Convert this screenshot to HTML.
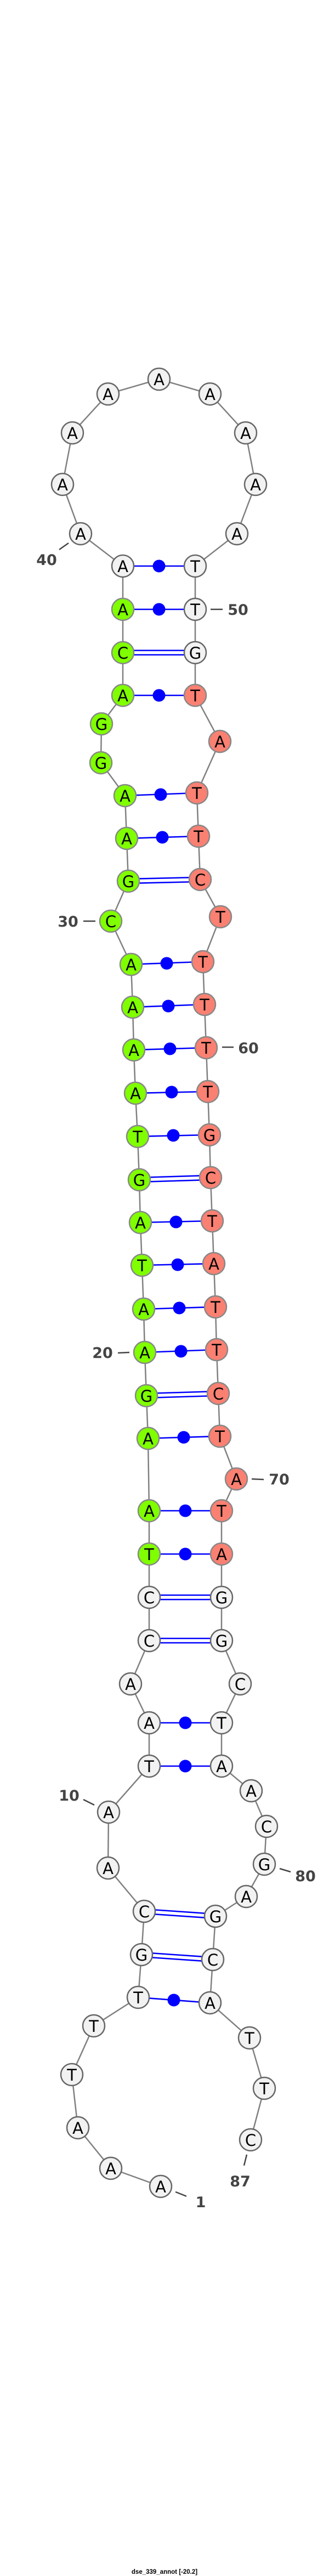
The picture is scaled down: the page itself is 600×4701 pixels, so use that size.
<!DOCTYPE html>
<html><head><meta charset="utf-8"><style>
html,body{margin:0;padding:0;background:#fff;}
svg{display:block}
.n{font-family:"DejaVu Sans","Liberation Sans",sans-serif;font-size:29px;text-anchor:middle;fill:#000}
.l{font-family:"DejaVu Sans","Liberation Sans",sans-serif;font-size:27px;font-weight:bold;text-anchor:middle;fill:#444}
circle.w{fill:#f2f2f2;stroke:#666;stroke-width:2.5}
circle.g{fill:#7fff00;stroke:#888;stroke-width:2.5}
circle.s{fill:#fa8072;stroke:#888;stroke-width:2.5}
.bp{stroke:#0000ff;stroke-width:2.6;fill:none}
.tk{stroke:#444;stroke-width:2.5}
</style></head><body>
<svg width="600" height="4701" viewBox="0 0 600 4701" xmlns="http://www.w3.org/2000/svg">
<polyline fill="none" stroke="#808080" stroke-width="2.5" points="293,3990 202,3957 142,3883 131,3786 171,3697 252,3645 258,3567 263,3488 197,3409 198,3307 272,3223 272,3144 238,3073 272,2994 272,2915 272,2836 272,2757 270,2625 267,2547 264,2468 262,2389 259,2309 256,2231 254,2153 251,2074 247,1995 244,1916 242,1838 239,1760 202,1681 234,1608 231,1530 228,1452 184,1392 185,1321 224,1269 224,1191 224,1112 224,1033 147,974 114,884 132,790 197,719 290,692 383,719 448,790 466,884 432,974 356,1033 356,1112 356,1191 356,1269 401,1353 359,1447 362,1526 365,1605 402,1673 370,1755 373,1833 376,1912 379,1992 382,2071 384,2149 387,2228 390,2306 393,2385 395,2463 398,2543 401,2621 431,2699 404,2757 404,2836 404,2915 404,2994 438,3073 404,3144 404,3223 458,3268 486,3333 482,3402 449,3461 393,3497 388,3576 383,3655 455,3719 482,3811 457,3905"/>
<!-- single (dot) pairs -->
<g class="bp">
<line x1="224" y1="1033" x2="356" y2="1033"/><line x1="224" y1="1112" x2="356" y2="1112"/><line x1="224" y1="1269" x2="356" y2="1269"/>
<line x1="228" y1="1452" x2="359" y2="1447"/><line x1="231" y1="1530" x2="362" y2="1526"/>
<line x1="239" y1="1760" x2="370" y2="1755"/><line x1="242" y1="1838" x2="373" y2="1833"/><line x1="244" y1="1916" x2="376" y2="1912"/>
<line x1="247" y1="1995" x2="379" y2="1992"/><line x1="251" y1="2074" x2="382" y2="2071"/>
<line x1="256" y1="2231" x2="387" y2="2228"/><line x1="259" y1="2309" x2="390" y2="2306"/><line x1="262" y1="2389" x2="393" y2="2385"/><line x1="264" y1="2468" x2="395" y2="2463"/>
<line x1="270" y1="2625" x2="401" y2="2621"/><line x1="272" y1="2757" x2="404" y2="2757"/><line x1="272" y1="2836" x2="404" y2="2836"/>
<line x1="272" y1="3144" x2="404" y2="3144"/><line x1="272" y1="3223" x2="404" y2="3223"/>
<line x1="252" y1="3645" x2="383" y2="3655"/>
<!-- doubles -->
<line x1="224" y1="1187" x2="356" y2="1187"/><line x1="224" y1="1195" x2="356" y2="1195"/>
<line x1="234" y1="1604" x2="365" y2="1601"/><line x1="234" y1="1612" x2="365" y2="1609"/>
<line x1="254" y1="2149" x2="384" y2="2145"/><line x1="254" y1="2157" x2="384" y2="2153"/>
<line x1="267" y1="2543" x2="398" y2="2539"/><line x1="267" y1="2551" x2="398" y2="2547"/>
<line x1="272" y1="2911" x2="404" y2="2911"/><line x1="272" y1="2919" x2="404" y2="2919"/>
<line x1="272" y1="2990" x2="404" y2="2990"/><line x1="272" y1="2998" x2="404" y2="2998"/>
<line x1="263" y1="3484" x2="393" y2="3493"/><line x1="263" y1="3492" x2="393" y2="3501"/>
<line x1="258" y1="3563" x2="388" y2="3572"/><line x1="258" y1="3571" x2="388" y2="3580"/>
</g>
<g fill="#0000ff">
<circle cx="290" cy="1033" r="11.5"/><circle cx="290" cy="1112" r="11.5"/><circle cx="290" cy="1269" r="11.5"/>
<circle cx="293" cy="1450" r="11.5"/><circle cx="296" cy="1528" r="11.5"/>
<circle cx="304" cy="1758" r="11.5"/><circle cx="307" cy="1836" r="11.5"/><circle cx="310" cy="1914" r="11.5"/>
<circle cx="313" cy="1993" r="11.5"/><circle cx="316" cy="2072" r="11.5"/>
<circle cx="321" cy="2230" r="11.5"/><circle cx="324" cy="2308" r="11.5"/><circle cx="327" cy="2387" r="11.5"/><circle cx="330" cy="2466" r="11.5"/>
<circle cx="335" cy="2623" r="11.5"/><circle cx="338" cy="2757" r="11.5"/><circle cx="338" cy="2836" r="11.5"/>
<circle cx="338" cy="3144" r="11.5"/><circle cx="338" cy="3223" r="11.5"/>
<circle cx="317" cy="3650" r="11.5"/>
</g>
<!-- nodes -->
<g>
<circle class="w" cx="293" cy="3990" r="20"/><text class="n" x="293" y="4001">A</text>
<circle class="w" cx="202" cy="3957" r="20"/><text class="n" x="202" y="3968">A</text>
<circle class="w" cx="142" cy="3883" r="20"/><text class="n" x="142" y="3894">A</text>
<circle class="w" cx="131" cy="3786" r="20"/><text class="n" x="131" y="3797">T</text>
<circle class="w" cx="171" cy="3697" r="20"/><text class="n" x="171" y="3708">T</text>
<circle class="w" cx="252" cy="3645" r="20"/><text class="n" x="252" y="3656">T</text>
<circle class="w" cx="258" cy="3567" r="20"/><text class="n" x="258" y="3578">G</text>
<circle class="w" cx="263" cy="3488" r="20"/><text class="n" x="263" y="3499">C</text>
<circle class="w" cx="197" cy="3409" r="20"/><text class="n" x="197" y="3420">A</text>
<circle class="w" cx="198" cy="3307" r="20"/><text class="n" x="198" y="3318">A</text>
<circle class="w" cx="272" cy="3223" r="20"/><text class="n" x="272" y="3234">T</text>
<circle class="w" cx="272" cy="3144" r="20"/><text class="n" x="272" y="3155">A</text>
<circle class="w" cx="238" cy="3073" r="20"/><text class="n" x="238" y="3084">A</text>
<circle class="w" cx="272" cy="2994" r="20"/><text class="n" x="272" y="3005">C</text>
<circle class="w" cx="272" cy="2915" r="20"/><text class="n" x="272" y="2926">C</text>
<circle class="g" cx="272" cy="2836" r="20"/><text class="n" x="272" y="2847">T</text>
<circle class="g" cx="272" cy="2757" r="20"/><text class="n" x="272" y="2768">A</text>
<circle class="g" cx="270" cy="2625" r="20"/><text class="n" x="270" y="2636">A</text>
<circle class="g" cx="267" cy="2547" r="20"/><text class="n" x="267" y="2558">G</text>
<circle class="g" cx="264" cy="2468" r="20"/><text class="n" x="264" y="2479">A</text>
<circle class="g" cx="262" cy="2389" r="20"/><text class="n" x="262" y="2400">A</text>
<circle class="g" cx="259" cy="2309" r="20"/><text class="n" x="259" y="2320">T</text>
<circle class="g" cx="256" cy="2231" r="20"/><text class="n" x="256" y="2242">A</text>
<circle class="g" cx="254" cy="2153" r="20"/><text class="n" x="254" y="2164">G</text>
<circle class="g" cx="251" cy="2074" r="20"/><text class="n" x="251" y="2085">T</text>
<circle class="g" cx="247" cy="1995" r="20"/><text class="n" x="247" y="2006">A</text>
<circle class="g" cx="244" cy="1916" r="20"/><text class="n" x="244" y="1927">A</text>
<circle class="g" cx="242" cy="1838" r="20"/><text class="n" x="242" y="1849">A</text>
<circle class="g" cx="239" cy="1760" r="20"/><text class="n" x="239" y="1771">A</text>
<circle class="g" cx="202" cy="1681" r="20"/><text class="n" x="202" y="1692">C</text>
<circle class="g" cx="234" cy="1608" r="20"/><text class="n" x="234" y="1619">G</text>
<circle class="g" cx="231" cy="1530" r="20"/><text class="n" x="231" y="1541">A</text>
<circle class="g" cx="228" cy="1452" r="20"/><text class="n" x="228" y="1463">A</text>
<circle class="g" cx="184" cy="1392" r="20"/><text class="n" x="184" y="1403">G</text>
<circle class="g" cx="185" cy="1321" r="20"/><text class="n" x="185" y="1332">G</text>
<circle class="g" cx="224" cy="1269" r="20"/><text class="n" x="224" y="1280">A</text>
<circle class="g" cx="224" cy="1191" r="20"/><text class="n" x="224" y="1202">C</text>
<circle class="g" cx="224" cy="1112" r="20"/><text class="n" x="224" y="1123">A</text>
<circle class="w" cx="224" cy="1033" r="20"/><text class="n" x="224" y="1044">A</text>
<circle class="w" cx="147" cy="974" r="20"/><text class="n" x="147" y="985">A</text>
<circle class="w" cx="114" cy="884" r="20"/><text class="n" x="114" y="895">A</text>
<circle class="w" cx="132" cy="790" r="20"/><text class="n" x="132" y="801">A</text>
<circle class="w" cx="197" cy="719" r="20"/><text class="n" x="197" y="730">A</text>
<circle class="w" cx="290" cy="692" r="20"/><text class="n" x="290" y="703">A</text>
<circle class="w" cx="383" cy="719" r="20"/><text class="n" x="383" y="730">A</text>
<circle class="w" cx="448" cy="790" r="20"/><text class="n" x="448" y="801">A</text>
<circle class="w" cx="466" cy="884" r="20"/><text class="n" x="466" y="895">A</text>
<circle class="w" cx="432" cy="974" r="20"/><text class="n" x="432" y="985">A</text>
<circle class="w" cx="356" cy="1033" r="20"/><text class="n" x="356" y="1044">T</text>
<circle class="w" cx="356" cy="1112" r="20"/><text class="n" x="356" y="1123">T</text>
<circle class="w" cx="356" cy="1191" r="20"/><text class="n" x="356" y="1202">G</text>
<circle class="s" cx="356" cy="1269" r="20"/><text class="n" x="356" y="1280">T</text>
<circle class="s" cx="401" cy="1353" r="20"/><text class="n" x="401" y="1364">A</text>
<circle class="s" cx="359" cy="1447" r="20"/><text class="n" x="359" y="1458">T</text>
<circle class="s" cx="362" cy="1526" r="20"/><text class="n" x="362" y="1537">T</text>
<circle class="s" cx="365" cy="1605" r="20"/><text class="n" x="365" y="1616">C</text>
<circle class="s" cx="402" cy="1673" r="20"/><text class="n" x="402" y="1684">T</text>
<circle class="s" cx="370" cy="1755" r="20"/><text class="n" x="370" y="1766">T</text>
<circle class="s" cx="373" cy="1833" r="20"/><text class="n" x="373" y="1844">T</text>
<circle class="s" cx="376" cy="1912" r="20"/><text class="n" x="376" y="1923">T</text>
<circle class="s" cx="379" cy="1992" r="20"/><text class="n" x="379" y="2003">T</text>
<circle class="s" cx="382" cy="2071" r="20"/><text class="n" x="382" y="2082">G</text>
<circle class="s" cx="384" cy="2149" r="20"/><text class="n" x="384" y="2160">C</text>
<circle class="s" cx="387" cy="2228" r="20"/><text class="n" x="387" y="2239">T</text>
<circle class="s" cx="390" cy="2306" r="20"/><text class="n" x="390" y="2317">A</text>
<circle class="s" cx="393" cy="2385" r="20"/><text class="n" x="393" y="2396">T</text>
<circle class="s" cx="395" cy="2463" r="20"/><text class="n" x="395" y="2474">T</text>
<circle class="s" cx="398" cy="2543" r="20"/><text class="n" x="398" y="2554">C</text>
<circle class="s" cx="401" cy="2621" r="20"/><text class="n" x="401" y="2632">T</text>
<circle class="s" cx="431" cy="2699" r="20"/><text class="n" x="431" y="2710">A</text>
<circle class="s" cx="404" cy="2757" r="20"/><text class="n" x="404" y="2768">T</text>
<circle class="s" cx="404" cy="2836" r="20"/><text class="n" x="404" y="2847">A</text>
<circle class="w" cx="404" cy="2915" r="20"/><text class="n" x="404" y="2926">G</text>
<circle class="w" cx="404" cy="2994" r="20"/><text class="n" x="404" y="3005">G</text>
<circle class="w" cx="438" cy="3073" r="20"/><text class="n" x="438" y="3084">C</text>
<circle class="w" cx="404" cy="3144" r="20"/><text class="n" x="404" y="3155">T</text>
<circle class="w" cx="404" cy="3223" r="20"/><text class="n" x="404" y="3234">A</text>
<circle class="w" cx="458" cy="3268" r="20"/><text class="n" x="458" y="3279">A</text>
<circle class="w" cx="486" cy="3333" r="20"/><text class="n" x="486" y="3344">C</text>
<circle class="w" cx="482" cy="3402" r="20"/><text class="n" x="482" y="3413">G</text>
<circle class="w" cx="449" cy="3461" r="20"/><text class="n" x="449" y="3472">A</text>
<circle class="w" cx="393" cy="3497" r="20"/><text class="n" x="393" y="3508">G</text>
<circle class="w" cx="388" cy="3576" r="20"/><text class="n" x="388" y="3587">C</text>
<circle class="w" cx="383" cy="3655" r="20"/><text class="n" x="383" y="3666">A</text>
<circle class="w" cx="455" cy="3719" r="20"/><text class="n" x="455" y="3730">T</text>
<circle class="w" cx="482" cy="3811" r="20"/><text class="n" x="482" y="3822">T</text>
<circle class="w" cx="457" cy="3905" r="20"/><text class="n" x="457" y="3916">C</text>
</g>
<!-- ticks & labels -->
<g class="tk">
<line x1="108" y1="1003" x2="125" y2="991"/>
<line x1="384" y1="1112" x2="406" y2="1112"/>
<line x1="152" y1="1681" x2="174" y2="1681"/>
<line x1="405" y1="1911" x2="426" y2="1911"/>
<line x1="215" y1="2469" x2="236" y2="2468"/>
<line x1="459" y1="2699" x2="481" y2="2700"/>
<line x1="152" y1="3284" x2="172" y2="3294"/>
<line x1="510" y1="3410" x2="530" y2="3416"/>
<line x1="450" y1="3932" x2="445" y2="3952"/>
<line x1="320" y1="4000" x2="340" y2="4008"/>
</g>
<text class="l" x="85" y="1031">40</text>
<text class="l" x="434" y="1122">50</text>
<text class="l" x="124" y="1691">30</text>
<text class="l" x="453" y="1922">60</text>
<text class="l" x="187" y="2478">20</text>
<text class="l" x="509" y="2709">70</text>
<text class="l" x="126" y="3286">10</text>
<text class="l" x="557" y="3433">80</text>
<text class="l" x="438" y="3990">87</text>
<text class="l" x="366" y="4028">1</text>
<text x="300" y="4697" font-family="Liberation Sans, sans-serif" font-size="11.5" font-weight="bold" text-anchor="middle" fill="#000">dse_339_annot [-20.2]</text>
</svg>
</body></html>
